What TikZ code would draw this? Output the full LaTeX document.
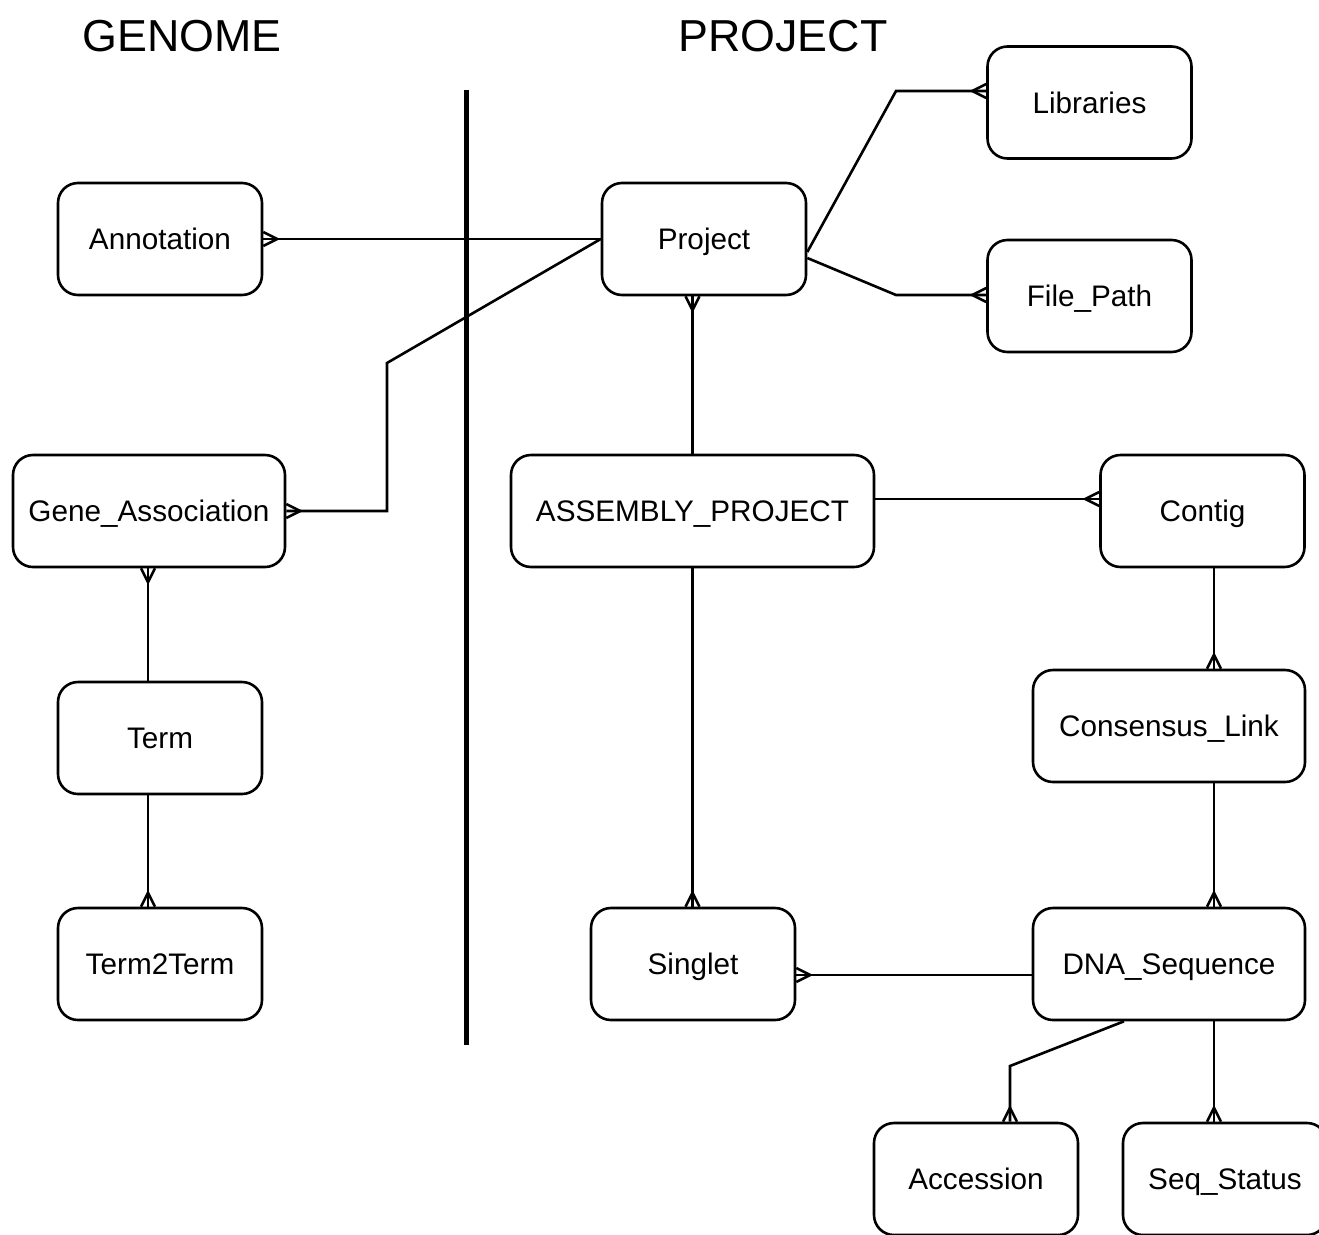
\documentclass[tikz,border=0pt]{standalone}
\usepackage{fontspec}
\setmainfont{Liberation Sans}
\usetikzlibrary{calc}
\tikzset{
  ent/.style={draw, line width=2.6pt, rounded corners=20pt, minimum width=204pt, minimum height=112pt, inner sep=0pt, text height=21.3pt, text depth=0pt, font=\fontsize{29.7}{32}\selectfont},
  conn/.style={line width=2.6pt, line join=miter},
  ttl/.style={font=\fontsize{44.8}{48}\selectfont, inner sep=0pt, text height=32pt, text depth=0pt}
}
\newcommand\crowfoot[2]{\begin{scope}[shift={#1},rotate=#2]\draw[conn] (0,7) -- (-14,0) -- (0,-7);\end{scope}}
\begin{document}
\begin{tikzpicture}[x=1pt,y=-1pt]
\useasboundingbox (0,0) rectangle (1319,1234);
\node[ttl] (tg) at (182,35) {GENOME};
\node[ttl] (tp) at (783,35) {PROJECT};
\draw[line width=5pt] (466,90) -- (466,1045);

\node[ent] (lib) at (1089.5,102.5) {Libraries};
\node[ent] (ann) at (160,239) {Annotation};
\node[ent] (proj) at (704,239) {Project};
\node[ent] (fp) at (1089.5,296) {File\_Path};
\node[ent, minimum width=272pt] (gene) at (149,511) {Gene\_Association};
\node[ent, minimum width=363pt] (asm) at (692.5,511) {ASSEMBLY\_PROJECT};
\node[ent] (contig) at (1202.5,511) {Contig};
\node[ent] (term) at (160,738) {Term};
\node[ent, minimum width=272pt] (cons) at (1169,726) {Consensus\_Link};
\node[ent] (t2t) at (160,964) {Term2Term};
\node[ent] (sing) at (693,964) {Singlet};
\node[ent, minimum width=272pt] (dna) at (1169,964) {DNA\_Sequence};
\node[ent] (acc) at (976,1179) {Accession};
\node[ent] (seq) at (1225,1179) {Seq\_Status};

\coordinate (vx) at (1214,0);
\coordinate (vl) at (148,0);
\coordinate (l1) at (896,91);
\coordinate (f1) at (896,295);
\coordinate (g1) at (387,363);
\coordinate (a1) at (1010,1066);
\coordinate (hy) at (0,975);
\coordinate (cy) at (0,499);

% connectors
\draw[conn] (ann.east) -- (proj.west);
\draw[conn] (proj.west) -- (g1) |- (gene.east);
\draw[conn] ($(proj.east)+(0,13)$) -- (l1) -- (l1 -| lib.west);
\draw[conn] ($(proj.east)+(0,19)$) -- (f1) -- (f1 -| fp.west);
\draw[conn] (asm.north) -- (asm.north |- proj.south);
\draw[conn] (asm.east |- cy) -- (contig.west |- cy);
\draw[conn] (asm.south) -- (asm.south |- sing.north);
\draw[conn] (contig.south -| vx) -- (cons.north -| vx);
\draw[conn] (cons.south -| vx) -- (dna.north -| vx);
\draw[conn] (dna.west |- hy) -- (sing.east |- hy);
\draw[conn] ($(dna.south)+(-45,0)$) -- (a1) -- (a1 |- acc.north);
\draw[conn] (dna.south -| vx) -- (seq.north -| vx);
\draw[conn] (gene.south -| vl) -- (term.north -| vl);
\draw[conn] (term.south -| vl) -- (t2t.north -| vl);

% crow's feet
\crowfoot{(l1 -| lib.west)}{0}
\crowfoot{(f1 -| fp.west)}{0}
\crowfoot{(ann.east)}{180}
\crowfoot{(gene.east)}{180}
\crowfoot{(asm.north |- proj.south)}{90}
\crowfoot{(contig.west |- cy)}{0}
\crowfoot{(cons.north -| vx)}{-90}
\crowfoot{(dna.north -| vx)}{-90}
\crowfoot{(asm.south |- sing.north)}{-90}
\crowfoot{(sing.east |- hy)}{180}
\crowfoot{(a1 |- acc.north)}{-90}
\crowfoot{(seq.north -| vx)}{-90}
\crowfoot{(gene.south -| vl)}{90}
\crowfoot{(t2t.north -| vl)}{-90}
\end{tikzpicture}
\end{document}
